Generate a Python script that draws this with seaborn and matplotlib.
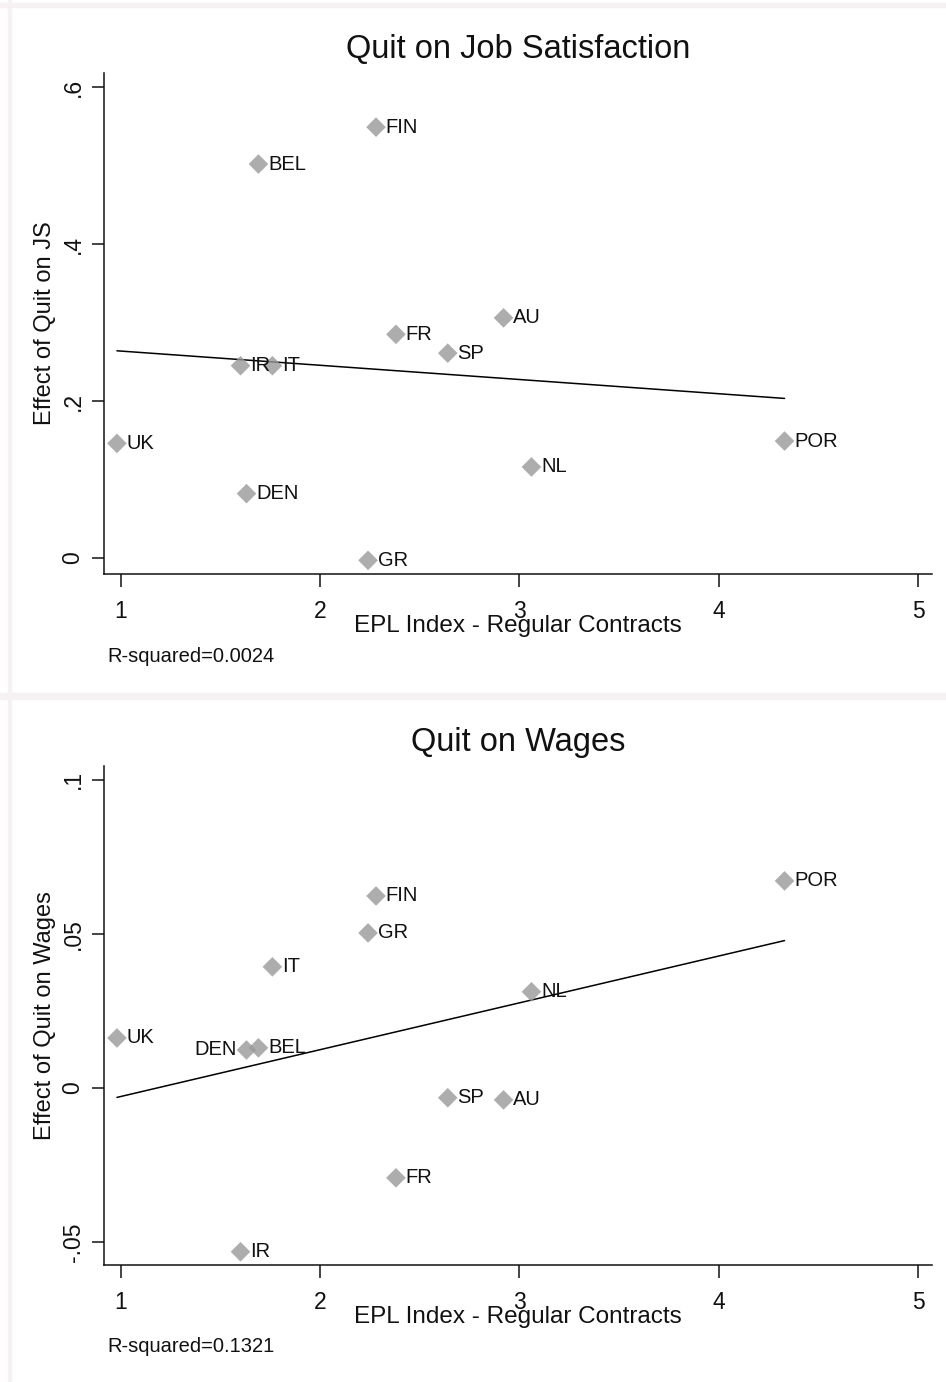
import matplotlib
matplotlib.use("Agg")
import matplotlib.pyplot as plt
import seaborn as sns
import pandas as pd

# data
countries = ["FIN", "BEL", "AU", "FR", "SP", "IR", "IT", "UK", "POR", "NL", "DEN", "GR"]
epl = [2.28, 1.69, 2.92, 2.38, 2.64, 1.60, 1.76, 0.98, 4.33, 3.06, 1.63, 2.24]
js_effect = [0.549, 0.502, 0.306, 0.285, 0.261, 0.245, 0.245, 0.146, 0.149, 0.116, 0.082, -0.003]
wage_effect = [0.0623, 0.0130, -0.0039, -0.0292, -0.0032, -0.0532, 0.0393, 0.0162, 0.0672, 0.0312, 0.0123, 0.0503]
js_ticks = [0, 0.2, 0.4, 0.6]
js_ticklabels = ["0", ".2", ".4", ".6"]
wage_ticks = [-0.05, 0, 0.05, 0.1]
wage_ticklabels = ["-.05", "0", ".05", ".1"]
x_ticks = [1, 2, 3, 4, 5]
r2_js = "R-squared=0.0024"
r2_wage = "R-squared=0.1321"

df = pd.DataFrame({"country": countries, "epl": epl, "js": js_effect, "wage": wage_effect})

sns.set_style("ticks")
plt.rcParams["font.family"] = ["Liberation Sans", "DejaVu Sans"]

W, H = 946, 1382
fig = plt.figure(figsize=(W / 100, H / 100), dpi=100)
fig.patch.set_facecolor("white")

# light frame strips like the Stata graph export
strip = "#f6f1f3"
fig.patches.append(plt.Rectangle((0, 1 - 7 / H), 1, 4 / H, transform=fig.transFigure, color=strip, zorder=0))
fig.patches.append(plt.Rectangle((8 / W, 0), 3 / W, 1, transform=fig.transFigure, color=strip, zorder=0))
fig.patches.append(plt.Rectangle((0, 1 - 699 / H), 1, 6 / H, transform=fig.transFigure, color=strip, zorder=0))

MARK = "#999999"


def panel(top_px, bottom_px, ycol, ylim, yticks, yticklabels, title, ylabel, r2, left_labels=()):
    ax = fig.add_axes([104 / W, 1 - bottom_px / H, (932 - 104) / W, (bottom_px - top_px) / H])
    sns.regplot(data=df, x="epl", y=ycol, ax=ax, ci=None, truncate=True,
                marker="D",
                scatter_kws={"s": 100, "color": MARK, "edgecolors": "none", "zorder": 3},
                line_kws={"color": "black", "lw": 1.1, "zorder": 2})
    for _, r in df.iterrows():
        if r["country"] in left_labels:
            ax.annotate(r["country"], (r["epl"], r[ycol]), xytext=(-7, 0), textcoords="offset points",
                        ha="right", va="center", fontsize=14.5, color="#111111", zorder=4)
        else:
            ax.annotate(r["country"], (r["epl"], r[ycol]), xytext=(7, 0), textcoords="offset points",
                        ha="left", va="center", fontsize=14.5, color="#111111", zorder=4)
    ax.set_xlim(0.915, 5.07)
    ax.set_ylim(*ylim)
    ax.set_xticks(x_ticks)
    ax.set_xticklabels([str(t) for t in x_ticks])
    ax.set_yticks(yticks)
    ax.set_yticklabels(yticklabels, rotation=90, va="center")
    ax.tick_params(axis="both", direction="out", length=9, width=1.1, labelsize=16.5, colors="#111111")
    ax.tick_params(axis="x", pad=10)
    ax.tick_params(axis="y", pad=5)
    sns.despine(ax=ax)
    for s in ["left", "bottom"]:
        ax.spines[s].set_linewidth(1.1)
        ax.spines[s].set_color("#111111")
    ax.set_xlabel("")
    ax.set_ylabel("")
    # titles and notes placed in pixel rows of the reference
    fig.text(518 / W, 1 - (top_px - 24) / H, title, ha="center", va="center", fontsize=23.5, color="#111111")
    fig.text(518 / W, 1 - (bottom_px + 52) / H, "EPL Index - Regular Contracts",
             ha="center", va="center", fontsize=17.5, color="#111111")
    fig.text(45 / W, 1 - (top_px + bottom_px) / 2 / H, ylabel, ha="center", va="center",
             rotation=90, fontsize=17, color="#111111")
    fig.text(107 / W, 1 - (bottom_px + 82) / H, r2, ha="left", va="center", fontsize=14.5, color="#111111")
    return ax


panel(73, 574, "js", (-0.0204, 0.618), js_ticks, js_ticklabels,
      "Quit on Job Satisfaction", "Effect of Quit on JS", r2_js)
panel(766, 1265, "wage", (-0.0575, 0.1045), wage_ticks, wage_ticklabels,
      "Quit on Wages", "Effect of Quit on Wages", r2_wage, left_labels=("DEN",))

fig.savefig("out.png", dpi=100)
